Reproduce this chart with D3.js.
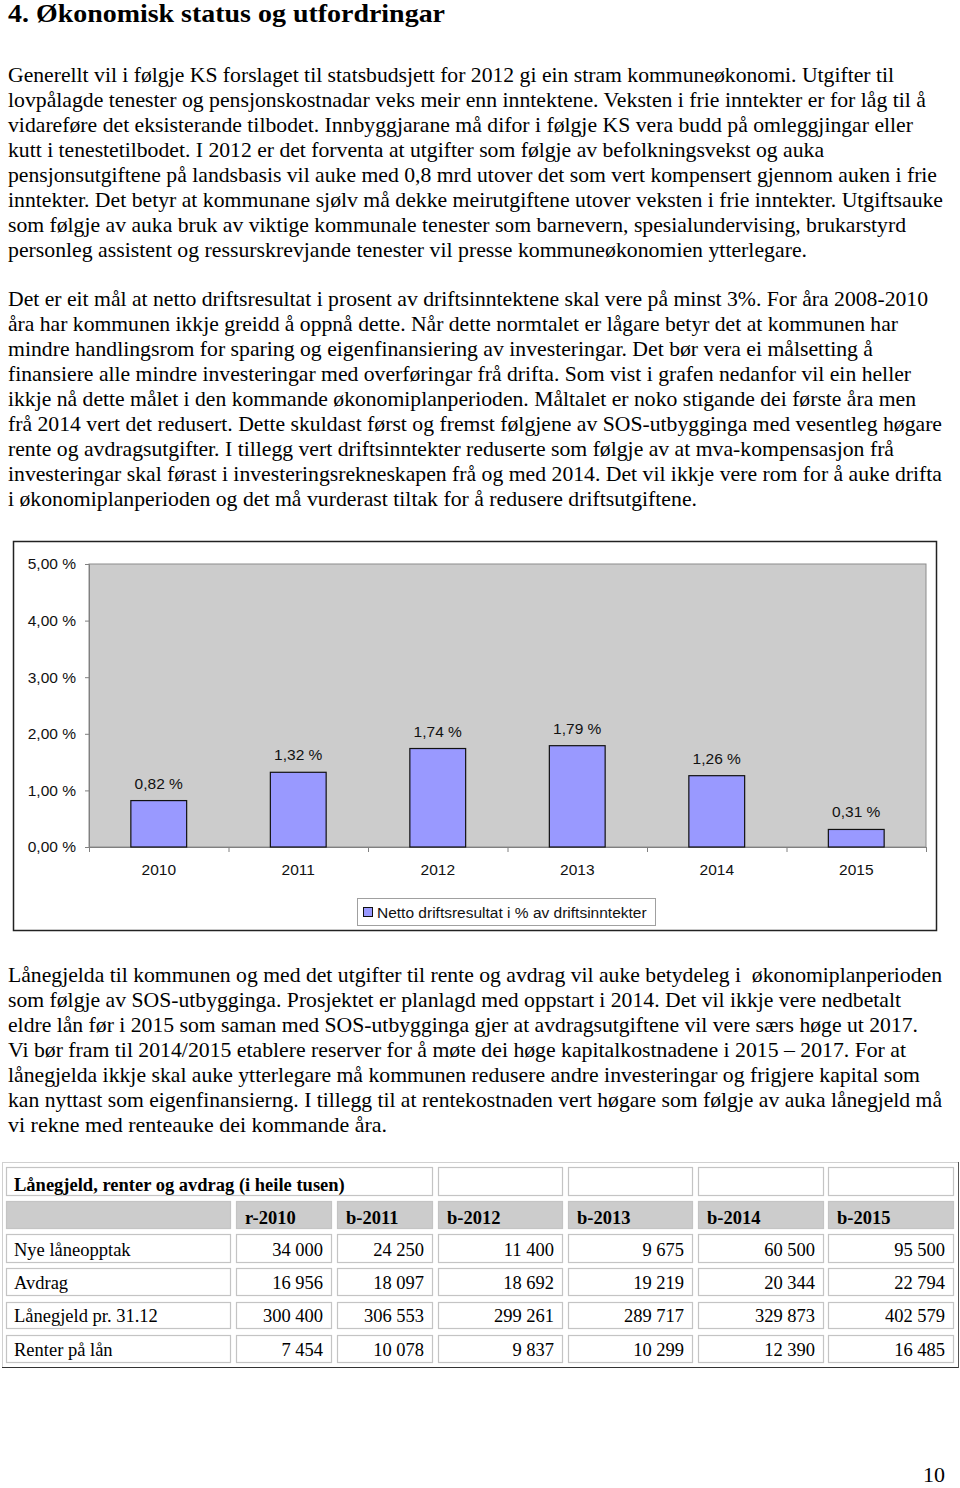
<!DOCTYPE html>
<html><head><meta charset="utf-8">
<script src="https://cdn.jsdelivr.net/npm/d3@7"></script>
<style>body{margin:0;background:#fff}svg{display:block}</style>
</head><body>
<script>
// ---------------- DATA ----------------
const heading = "4. Økonomisk status og utfordringar";
const para1 = [
 "Generellt vil i følgje KS forslaget til statsbudsjett for 2012 gi ein stram kommuneøkonomi. Utgifter til",
 "lovpålagde tenester og pensjonskostnadar veks meir enn inntektene. Veksten i frie inntekter er for låg til å",
 "vidareføre det eksisterande tilbodet. Innbyggjarane må difor i følgje KS vera budd på omleggjingar eller",
 "kutt i tenestetilbodet. I 2012 er det forventa at utgifter som følgje av befolkningsvekst og auka",
 "pensjonsutgiftene på landsbasis vil auke med 0,8 mrd utover det som vert kompensert gjennom auken i frie",
 "inntekter. Det betyr at kommunane sjølv må dekke meirutgiftene utover veksten i frie inntekter. Utgiftsauke",
 "som følgje av auka bruk av viktige kommunale tenester som barnevern, spesialundervising, brukarstyrd",
 "personleg assistent og ressurskrevjande tenester vil presse kommuneøkonomien ytterlegare."
];
const para2 = [
 "Det er eit mål at netto driftsresultat i prosent av driftsinntektene skal vere på minst 3%. For åra 2008-2010",
 "åra har kommunen ikkje greidd å oppnå dette. Når dette normtalet er lågare betyr det at kommunen har",
 "mindre handlingsrom for sparing og eigenfinansiering av investeringar. Det bør vera ei målsetting å",
 "finansiere alle mindre investeringar med overføringar frå drifta. Som vist i grafen nedanfor vil ein heller",
 "ikkje nå dette målet i den kommande økonomiplanperioden. Måltalet er noko stigande dei første åra men",
 "frå 2014 vert det redusert. Dette skuldast først og fremst følgjene av SOS-utbygginga med vesentleg høgare",
 "rente og avdragsutgifter. I tillegg vert driftsinntekter reduserte som følgje av at mva-kompensasjon frå",
 "investeringar skal førast i investeringsrekneskapen frå og med 2014. Det vil ikkje vere rom for å auke drifta",
 "i økonomiplanperioden og det må vurderast tiltak for å redusere driftsutgiftene."
];
const para3 = [
 "Lånegjelda til kommunen og med det utgifter til rente og avdrag vil auke betydeleg i  økonomiplanperioden",
 "som følgje av SOS-utbygginga. Prosjektet er planlagd med oppstart i 2014. Det vil ikkje vere nedbetalt",
 "eldre lån før i 2015 som saman med SOS-utbygginga gjer at avdragsutgiftene vil vere særs høge ut 2017.",
 "Vi bør fram til 2014/2015 etablere reserver for å møte dei høge kapitalkostnadene i 2015 – 2017. For at",
 "lånegjelda ikkje skal auke ytterlegare må kommunen redusere andre investeringar og frigjere kapital som",
 "kan nyttast som eigenfinansierng. I tillegg til at rentekostnaden vert høgare som følgje av auka lånegjeld må",
 "vi rekne med renteauke dei kommande åra."
];

const years = ["2010", "2011", "2012", "2013", "2014", "2015"];
const nettoDrift = [0.82, 1.32, 1.74, 1.79, 1.26, 0.31];
const yTicks = [0, 1, 2, 3, 4, 5];
const legendLabel = "Netto driftsresultat i % av driftsinntekter";

const tableTitle = "Lånegjeld, renter og avdrag (i heile tusen)";
const tableCols = ["r-2010", "b-2011", "b-2012", "b-2013", "b-2014", "b-2015"];
const rowLabels = ["Nye låneopptak", "Avdrag", "Lånegjeld pr. 31.12", "Renter på lån"];
const nyeLaan = [34000, 24250, 11400, 9675, 60500, 95500];
const avdrag = [16956, 18097, 18692, 19219, 20344, 22794];
const laanegjeld = [300400, 306553, 299261, 289717, 329873, 402579];
const renter = [7454, 10078, 9837, 10299, 12390, 16485];
const pageNumber = "10";

// ---------------- LAYOUT ----------------
const W = 960, H = 1488;
const serif = "'Liberation Serif','Times New Roman',Times,serif";
const sans = "'Liberation Sans',Arial,Helvetica,sans-serif";
const chartFont = 15.5;
const textLeft = 8;
const p1Ends = [894, 926, 913, 824, 937, 943, 906, 807];
const p2Ends = [928, 898, 873, 911, 916, 942, 894, 942, 697];
const p3Ends = [942, 901, 918, 906, 920, 942, 387];

const svg = d3.select("body").append("svg").attr("width", W).attr("height", H);

svg.append("text").attr("x", textLeft).attr("y", 22)
  .attr("font-family", serif).attr("font-weight", "bold").attr("font-size", 26)
  .attr("textLength", 437).attr("lengthAdjust", "spacingAndGlyphs")
  .text(heading);

function drawPara(lines, ends, y0) {
  svg.append("g").selectAll("text").data(lines).join("text")
    .attr("x", textLeft).attr("y", (d, i) => y0 + i * 25)
    .attr("font-family", serif).attr("font-size", 21)
    .attr("textLength", (d, i) => ends[i] - textLeft)
    .attr("lengthAdjust", "spacingAndGlyphs")
    .attr("xml:space", "preserve")
    .text(d => d);
}
drawPara(para1, p1Ends, 82);
drawPara(para2, p2Ends, 306);
drawPara(para3, p3Ends, 982);

// ---------------- CHART ----------------
const plot = {left: 89, right: 926, top: 564, bottom: 847};
svg.append("rect").attr("x", 13.5).attr("y", 541.5).attr("width", 923).attr("height", 389)
  .attr("fill", "#fff").attr("stroke", "#222").attr("stroke-width", 1.5);

const x = d3.scaleBand().domain(years).range([plot.left, plot.right])
  .paddingInner(0.6).paddingOuter(0.3);
const y = d3.scaleLinear().domain([0, 5]).range([plot.bottom, plot.top]);
const pct = v => d3.format(".2f")(v).replace(".", ",") + " %";

svg.append("rect").attr("x", plot.left).attr("y", plot.top)
  .attr("width", plot.right - plot.left).attr("height", plot.bottom - plot.top)
  .attr("fill", "#cccccc").attr("stroke", "#8c8c8c").attr("stroke-width", 1);

const yAxis = svg.append("g").attr("transform", `translate(${plot.left},0)`)
  .call(d3.axisLeft(y).tickValues(yTicks).tickSize(4).tickPadding(9).tickFormat(pct));
yAxis.select(".domain").attr("stroke", "#808080");
yAxis.selectAll(".tick line").attr("stroke", "#808080");
yAxis.selectAll("text").attr("font-family", sans).attr("font-size", chartFont).attr("fill", "#111");

const xb = d3.scaleLinear().domain([0, years.length]).range([plot.left, plot.right]);
const xTicks = svg.append("g").attr("transform", `translate(0,${plot.bottom})`)
  .call(d3.axisBottom(xb).ticks(years.length).tickSize(5).tickFormat(""));
xTicks.select(".domain").attr("stroke", "#808080");
xTicks.selectAll(".tick line").attr("stroke", "#808080");

const xAxis = svg.append("g").attr("transform", `translate(0,${plot.bottom})`)
  .call(d3.axisBottom(x).tickSize(0).tickPadding(17));
xAxis.select(".domain").remove();
xAxis.selectAll("text").attr("font-family", sans).attr("font-size", chartFont).attr("fill", "#111");

svg.append("g").selectAll("rect").data(nettoDrift).join("rect")
  .attr("x", (d, i) => x(years[i])).attr("width", x.bandwidth())
  .attr("y", d => y(d)).attr("height", d => y(0) - y(d))
  .attr("fill", "#9999ff").attr("stroke", "#111").attr("stroke-width", 1.2);

svg.append("g").selectAll("text").data(nettoDrift).join("text")
  .attr("x", (d, i) => x(years[i]) + x.bandwidth() / 2).attr("y", d => y(d) - 12)
  .attr("text-anchor", "middle").attr("font-family", sans).attr("font-size", chartFont).attr("fill", "#111")
  .text(pct);

const lg = svg.append("g");
lg.append("rect").attr("x", 357.5).attr("y", 898.5).attr("width", 298).attr("height", 27)
  .attr("fill", "#fff").attr("stroke", "#a0a0a0");
lg.append("rect").attr("x", 363.5).attr("y", 907.5).attr("width", 9).attr("height", 9)
  .attr("fill", "#9999ff").attr("stroke", "#111");
lg.append("text").attr("x", 377).attr("y", 917.5).attr("font-family", sans).attr("font-size", chartFont)
  .attr("fill", "#111").text(legendLabel);

// ---------------- TABLE ----------------
const fmtLocale = d3.formatLocale({decimal: ",", thousands: " ", grouping: [3], currency: ["", ""]});
const fmtNum = fmtLocale.format(",d");
const colL = [6, 236, 337, 438, 568, 698, 828];
const colR = [230, 331, 432, 562, 692, 823, 953];
const rowTop = [1167, 1201, 1234, 1268, 1302, 1335];
const rowBot = [1195, 1228, 1262, 1295, 1328, 1362];
const tableRows = [nyeLaan, avdrag, laanegjeld, renter];

const tg = svg.append("g");
tg.append("rect").attr("x", 2.5).attr("y", 1162.5).attr("width", 956).attr("height", 205)
  .attr("fill", "#fff").attr("stroke", "#d0d0d0");
tg.append("line").attr("x1", 2).attr("x2", 959).attr("y1", 1367.5).attr("y2", 1367.5).attr("stroke", "#333");
tg.append("line").attr("x1", 958.5).attr("x2", 958.5).attr("y1", 1162).attr("y2", 1368).attr("stroke", "#555");

function cell(x0, x1, r, fill) {
  tg.append("rect").attr("x", x0 + 0.5).attr("y", rowTop[r] + 0.5)
    .attr("width", x1 - x0).attr("height", rowBot[r] - rowTop[r])
    .attr("fill", fill).attr("stroke", "#c4c4c4").attr("stroke-width", 1.2);
}
// title row
cell(colL[0], colR[2], 0, "#fff");
for (let c = 3; c < 7; c++) cell(colL[c], colR[c], 0, "#fff");
tg.append("text").attr("x", 14).attr("y", 1191).attr("font-family", serif).attr("font-weight", "bold")
  .attr("font-size", 18.5).text(tableTitle);
// header row
for (let c = 0; c < 7; c++) cell(colL[c], colR[c], 1, "#cccccc");
tg.append("g").selectAll("text").data(tableCols).join("text")
  .attr("x", (d, i) => colL[i + 1] + 9).attr("y", 1224)
  .attr("font-family", serif).attr("font-weight", "bold").attr("font-size", 18.5).text(d => d);
// data rows
tableRows.forEach((vals, r) => {
  for (let c = 0; c < 7; c++) cell(colL[c], colR[c], r + 2, "#fff");
  const base = rowBot[r + 2] - 6;
  tg.append("text").attr("x", 14).attr("y", base).attr("font-family", serif).attr("font-size", 18.5)
    .text(rowLabels[r]);
  tg.append("g").selectAll("text").data(vals).join("text")
    .attr("x", (d, i) => colR[i + 1] - 8).attr("y", base).attr("text-anchor", "end")
    .attr("font-family", serif).attr("font-size", 18.5).text(d => fmtNum(d));
});

svg.append("text").attr("x", 945).attr("y", 1482).attr("text-anchor", "end")
  .attr("font-family", serif).attr("font-size", 22).text(pageNumber);
</script>
</body></html>
